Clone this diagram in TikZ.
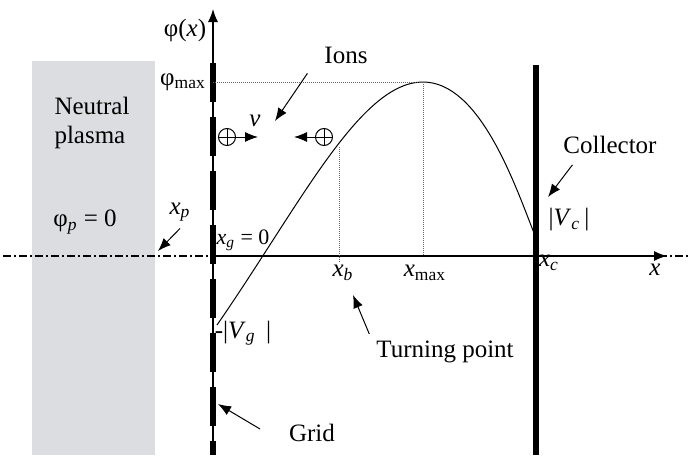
\documentclass[tikz,border=0pt]{standalone}
\usepackage{fontspec}
\setmainfont{Liberation Serif}
\usetikzlibrary{arrows.meta}

\definecolor{plasmagray}{RGB}{220,221,224}

\tikzset{
  pointer/.style={-{Latex[length=6.5pt,width=5pt]}, line width=0.5pt},
  guide/.style={line width=0.4pt, dash pattern=on 0.5pt off 0.5pt, gray!80!black},
  gridline/.style={line width=2.6pt, dash pattern=on 19.5pt off 7.5pt},
  axisline/.style={line width=0.6pt, dash pattern=on 4pt off 1.5pt on 1pt off 1.5pt},
  small label/.style={font=\fontsize{11}{13}\selectfont, inner sep=1pt},
  ion/.style={circle, draw, line width=0.5pt, minimum size=8.5pt, inner sep=0pt,
    path picture={\draw[line width=0.4pt]
      (path picture bounding box.north) -- (path picture bounding box.south)
      (path picture bounding box.west) -- (path picture bounding box.east);}},
}

\begin{document}
\begin{tikzpicture}[x=0.5pt, y=-0.5pt, every node/.style={font=\fontsize{12.5}{14.5}\selectfont}]
  \useasboundingbox (0,0) rectangle (689,455);

  % Neutral plasma region
  \fill[plasmagray] (32,61) rectangle (155,455);
  \node[align=left] (plasma) at (92,123) {Neutral\\plasma};
  \node (phip) at (85,222) {φ\textsubscript{\textit{p}} = 0};

  % Axes
  \coordinate (farleft) at (3,256);
  \coordinate (farright) at (689,256);
  \coordinate (origin) at (213,256);
  \coordinate (xtip) at (667,256);
  \coordinate (ybottom) at (213,455);
  \coordinate (ytip) at (213,9);
  \draw[axisline] (farleft) -- (farright);
  \draw[line width=0.6pt, -{Latex[length=6.5pt,width=5pt]}] (origin) -- (xtip);
  \draw[line width=0.6pt, -{Latex[length=6.5pt,width=5pt]}] (ybottom) -- (ytip);
  \node (phix) at (185,30) {φ(\textit{x})};
  \node (xlabel) at (655,270) {\textit{x}};

  % Grid and collector
  \coordinate (gridtop) at (213,63);
  \coordinate (collectortop) at (536,65);
  \coordinate (collectorbottom) at (536,455);
  \draw[gridline] (gridtop) -- (ybottom);
  \draw[line width=2.6pt] (collectortop) -- (collectorbottom);

  % Potential profile
  \coordinate (vg) at (217,325);
  \coordinate (peak) at (423,82);
  \coordinate (vc) at (534,233);
  \draw[line width=0.5pt] (vg) .. controls (300,205) and (360,82) .. (peak)
    .. controls (480,82) and (515,185) .. (vc);

  % Guide lines
  \coordinate (phimaxpt) at (213,82);
  \coordinate (xmaxpt) at (423,256);
  \coordinate (turnpt) at (339,147);
  \coordinate (xbpt) at (339,262);
  \draw[guide] (phimaxpt) -- (peak) -- (xmaxpt);
  \draw[guide] (turnpt) -- (xbpt);

  % Labels on the axes
  \node (phimax) at (183,82) {φ\textsubscript{max}};
  \node (xp) at (180,212) {\textit{x}\textsubscript{\textit{p}}};
  \node[small label] (xg) at (243,240) {\textit{x}\textsubscript{\textit{g}} = 0};
  \node (xb) at (343,273) {\textit{x}\textsubscript{\textit{b}}};
  \node (xmax) at (425,273) {\textit{x}\textsubscript{max}};
  \node (xc) at (549,263) {\textit{x}\textsubscript{\textit{c}}};
  \node (vclabel) at (569,220) {|\textit{V}\textsubscript{\textit{c}}\,|};
  \node (vglabel) at (243,333) {-|\textit{V}\textsubscript{\textit{g}}\, |};

  % Ions
  \node[ion] (ionin) at (227,137) {};
  \node[ion] (ionback) at (324,137) {};
  \coordinate (ionintip) at (258,137);
  \coordinate (ionbacktip) at (294,137);
  \draw[pointer] (ionin) -- (ionintip);
  \draw[pointer] (ionback) -- (ionbacktip);
  \node (vlabel) at (255,121) {\textit{v}};

  % Callouts
  \node (ions) at (346,55) {Ions};
  \coordinate (ionstip) at (275,121);
  \draw[pointer] ([shift={(-5pt,-1.5pt)}]ions.south west) -- (ionstip);

  \node (collector) at (610,145) {Collector};
  \coordinate (collectortip) at (548,197);
  \draw[pointer] ([shift={(8pt,-2pt)}]collector.south west) -- (collectortip);

  \coordinate (xptip) at (158,251);
  \draw[pointer] (xp.south) -- (xptip);

  \node (turning) at (445,352) {Turning point};
  \coordinate (turningtip) at (353,295);
  \draw[pointer] (turning.north west) -- (turningtip);

  \node (grid) at (312,433) {Grid};
  \coordinate (gridtip) at (218,404);
  \draw[pointer] ([shift={(-11pt,2pt)}]grid.west) -- (gridtip);
\end{tikzpicture}
\end{document}
